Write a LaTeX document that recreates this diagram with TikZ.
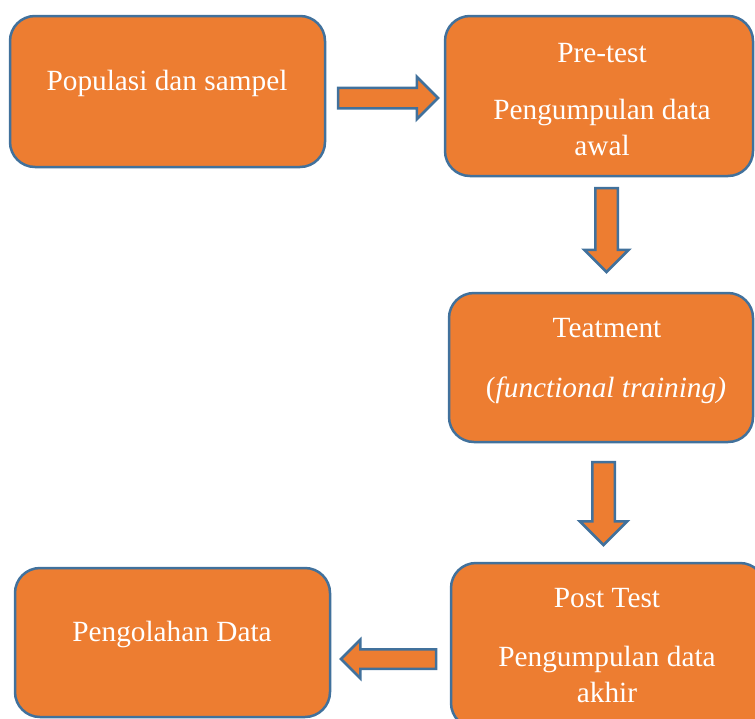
\documentclass[tikz,border=0pt]{standalone}
\usepackage{fontspec}
\setmainfont{Liberation Serif}
\usetikzlibrary{shapes.arrows}

\definecolor{boxorange}{HTML}{ED7D31}
\definecolor{boxblue}{HTML}{41719C}

\tikzset{
  stepbox/.style={rectangle, rounded corners=25pt, draw=boxblue, line width=2.5pt,
    fill=boxorange, inner sep=0pt, outer sep=0pt},
  boxtext/.style={anchor=base, text=white, inner sep=0pt,
    font=\fontsize{29.3}{36}\selectfont},
  blockarrow/.style={single arrow, draw=boxblue, line width=2.5pt, fill=boxorange,
    inner sep=10pt, single arrow head extend=11pt, anchor=tail, outer sep=0pt}
}

\begin{document}
\begin{tikzpicture}[x=1pt, y=-1pt]
  \clip (0,0) rectangle (755,718);

  % Boxes
  \node[stepbox, minimum width=315pt, minimum height=151pt] (pop) at (167.5,91.5) {};
  \node[stepbox, minimum width=308pt, minimum height=160pt] (pre) at (599,96) {};
  \node[stepbox, minimum width=304pt, minimum height=149pt] (treat) at (601,367.5) {};
  \node[stepbox, minimum width=314pt, minimum height=165pt] (post) at (608,645.5) {};
  \node[stepbox, minimum width=315pt, minimum height=149pt] (olah) at (172.5,642.5) {};

  % Texts
  \node[boxtext] (popT) at (167,90) {Populasi dan sampel};
  \node[boxtext] (preT) at (602,62) {Pre-test};
  \node[boxtext] (preA) at (602,119) {Pengumpulan data};
  \node[boxtext] (preB) at (602,155) {awal};
  \node[boxtext] (treatT) at (607,337) {Teatment};
  \node[boxtext] (treatA) at (606,397) {({\itshape functional training)}};
  \node[boxtext] (postT) at (607,607) {Post Test};
  \node[boxtext] (postA) at (607,666) {Pengumpulan data};
  \node[boxtext] (postB) at (607,702) {akhir};
  \node[boxtext] (olahT) at (172,641) {Pengolahan Data};

  % Block arrows
  \node[blockarrow, minimum height=100pt, inner sep=9pt] (a1) at (338,98) {};
  \node[blockarrow, minimum height=84pt, shape border rotate=270] (a2) at (606.5,188) {};
  \node[blockarrow, minimum height=83pt, shape border rotate=270, single arrow head extend=12.5pt] (a3) at (603.5,462) {};
  \node[blockarrow, minimum height=95pt, shape border rotate=180, inner sep=8.5pt, single arrow head extend=9.5pt] (a4) at (436,659) {};
\end{tikzpicture}
\end{document}
